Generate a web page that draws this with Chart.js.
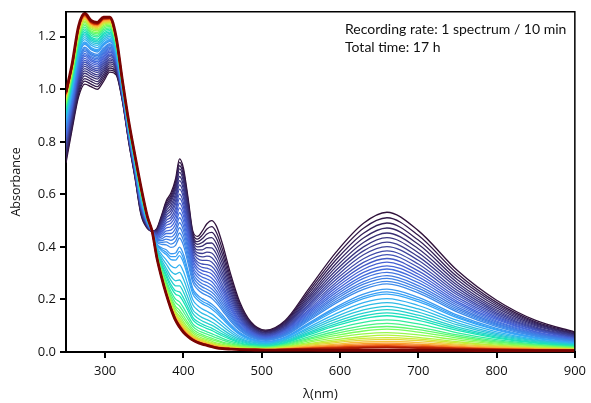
<!DOCTYPE html>
<html>
<head>
<meta charset="utf-8">
<script src="https://cdn.jsdelivr.net/npm/chart.js@4.4.0/dist/chart.umd.min.js"></script>
<style>
  html, body { margin: 0; padding: 0; background: #fff; }
</style>
</head>
<body>
<canvas id="uvvisChart" width="591" height="403"></canvas>
<script>
// wavelength grid (nm)
var wavelengths = [250,258,266,274,282,290,298,306,314,322,330,338,346,354,360,366,372,378,384,390,395,400,406,412,418,424,430,436,442,450,460,472,486,505,530,560,595,630,660,700,750,800,850,900];

// recording time of each plotted spectrum (min)
var times = [0,10,20,30,40,50,60,70,80,90,100,110,120,130,140,150,160,170,180,200,210,220,240,260,280,300,320,340,370,400,430,460,500,540,580,620,670,720,770,830,890,960,1020];

// absorbance of each spectrum on the wavelength grid
var spectra = [
  [.72,.85,.97,1.02,1.01,1.00,1.03,1.065,1.055,.955,.80,.665,.52,.47,.46,.47,.52,.575,.605,.66,.735,.70,.585,.46,.44,.46,.488,.50,.48,.41,.30,.19,.115,.083,.12,.24,.38,.49,.532,.462,.31,.197,.12,.076],
  [.731,.86,.981,1.031,1.02,1.01,1.04,1.073,1.061,.958,.803,.668,.524,.472,.46,.468,.515,.568,.596,.649,.722,.688,.574,.452,.43,.445,.468,.477,.456,.389,.285,.182,.111,.08,.116,.231,.365,.471,.511,.444,.298,.189,.115,.073],
  [.741,.87,.991,1.041,1.03,1.02,1.049,1.081,1.066,.961,.806,.672,.528,.474,.46,.466,.511,.561,.587,.638,.709,.675,.564,.443,.42,.431,.449,.455,.434,.37,.272,.174,.107,.078,.112,.222,.351,.452,.491,.426,.286,.182,.111,.07],
  [.751,.879,1.001,1.051,1.039,1.029,1.058,1.089,1.072,.964,.809,.675,.532,.475,.46,.463,.506,.554,.579,.628,.697,.663,.553,.435,.41,.417,.431,.435,.413,.351,.259,.166,.103,.075,.108,.213,.337,.434,.472,.41,.275,.175,.107,.068],
  [.761,.888,1.011,1.061,1.048,1.039,1.067,1.097,1.077,.967,.812,.678,.536,.477,.46,.461,.501,.547,.57,.617,.684,.65,.543,.427,.40,.403,.414,.415,.393,.334,.246,.159,.10,.073,.104,.205,.324,.417,.453,.393,.264,.168,.103,.065],
  [.77,.896,1.02,1.07,1.057,1.047,1.075,1.104,1.082,.97,.815,.681,.539,.478,.46,.458,.495,.538,.559,.603,.668,.634,.53,.416,.389,.389,.397,.396,.374,.317,.234,.152,.096,.071,.10,.197,.311,.40,.435,.378,.254,.161,.099,.063],
  [.779,.904,1.029,1.079,1.065,1.055,1.083,1.111,1.087,.972,.817,.683,.543,.48,.46,.456,.49,.529,.548,.59,.652,.619,.517,.406,.378,.375,.38,.377,.355,.301,.223,.145,.093,.068,.097,.19,.299,.385,.418,.363,.244,.155,.095,.061],
  [.787,.912,1.037,1.087,1.073,1.064,1.091,1.117,1.091,.975,.82,.686,.546,.481,.46,.453,.484,.52,.537,.576,.636,.603,.503,.396,.367,.362,.365,.36,.338,.286,.212,.139,.089,.066,.093,.182,.287,.37,.401,.349,.234,.149,.091,.058],
  [.795,.92,1.045,1.095,1.08,1.071,1.098,1.124,1.095,.977,.822,.689,.549,.483,.46,.45,.478,.511,.526,.563,.62,.588,.49,.385,.356,.349,.349,.343,.321,.272,.202,.133,.086,.064,.09,.176,.276,.355,.385,.335,.225,.143,.088,.056],
  [.803,.927,1.053,1.103,1.087,1.078,1.105,1.13,1.10,.98,.825,.691,.552,.484,.46,.447,.471,.501,.513,.547,.601,.569,.474,.373,.343,.335,.333,.326,.305,.257,.191,.128,.082,.062,.087,.169,.265,.341,.371,.322,.217,.138,.085,.054],
  [.81,.934,1.06,1.11,1.094,1.085,1.112,1.135,1.104,.982,.827,.693,.555,.485,.46,.444,.465,.492,.502,.533,.585,.553,.461,.363,.333,.322,.319,.311,.29,.244,.182,.121,.079,.059,.084,.162,.255,.328,.356,.309,.208,.133,.082,.052],
  [.818,.941,1.068,1.118,1.101,1.092,1.119,1.141,1.108,.984,.829,.696,.558,.486,.46,.441,.458,.482,.49,.519,.567,.536,.447,.351,.321,.31,.305,.297,.275,.232,.173,.116,.076,.057,.081,.156,.245,.315,.342,.297,.20,.128,.078,.05],
  [.825,.947,1.075,1.125,1.108,1.099,1.125,1.146,1.111,.986,.831,.698,.561,.487,.46,.438,.452,.472,.477,.503,.549,.519,.432,.34,.31,.298,.292,.282,.261,.22,.165,.111,.073,.055,.078,.15,.235,.303,.328,.286,.192,.123,.076,.049],
  [.831,.953,1.081,1.131,1.114,1.105,1.131,1.151,1.115,.988,.833,.70,.563,.489,.46,.435,.445,.461,.464,.487,.53,.50,.416,.327,.298,.285,.278,.268,.247,.208,.156,.105,.07,.053,.075,.145,.226,.291,.316,.275,.185,.118,.073,.047],
  [.837,.959,1.087,1.137,1.12,1.111,1.137,1.156,1.118,.99,.835,.702,.566,.49,.46,.432,.438,.451,.451,.471,.511,.481,.401,.315,.286,.272,.265,.254,.234,.197,.148,.10,.067,.051,.072,.139,.217,.28,.303,.264,.178,.114,.07,.045],
  [.844,.965,1.094,1.144,1.125,1.117,1.142,1.161,1.121,.992,.837,.704,.568,.491,.46,.428,.431,.44,.438,.455,.492,.463,.385,.302,.274,.26,.252,.241,.222,.186,.14,.095,.064,.049,.069,.134,.209,.268,.291,.253,.171,.109,.067,.044],
  [.85,.97,1.10,1.15,1.131,1.122,1.148,1.166,1.125,.993,.838,.706,.57,.492,.46,.425,.424,.43,.425,.439,.473,.444,.369,.29,.262,.248,.239,.228,.21,.176,.133,.091,.062,.047,.067,.129,.201,.258,.28,.243,.164,.105,.065,.042],
  [.855,.975,1.105,1.155,1.136,1.128,1.153,1.17,1.128,.995,.84,.708,.573,.493,.46,.422,.417,.419,.411,.422,.453,.425,.353,.277,.25,.236,.227,.216,.198,.166,.125,.086,.059,.046,.064,.124,.193,.248,.269,.234,.158,.101,.063,.041],
  [.86,.98,1.11,1.16,1.141,1.133,1.157,1.174,1.13,.997,.842,.709,.575,.493,.46,.418,.41,.408,.398,.406,.434,.406,.337,.265,.239,.224,.215,.205,.187,.157,.118,.082,.056,.044,.062,.119,.186,.238,.259,.225,.152,.097,.06,.039],
  [.871,.99,1.121,1.171,1.151,1.142,1.167,1.182,1.136,1.00,.845,.712,.579,.495,.46,.412,.397,.389,.374,.377,.399,.372,.308,.242,.217,.203,.194,.183,.167,.14,.106,.074,.051,.04,.057,.11,.171,.22,.239,.208,.14,.09,.056,.036],
  [.876,.994,1.126,1.176,1.155,1.147,1.171,1.186,1.139,1.001,.846,.714,.581,.496,.46,.41,.391,.38,.363,.363,.383,.356,.295,.232,.208,.193,.184,.173,.158,.132,.10,.07,.049,.039,.055,.106,.165,.211,.229,.199,.135,.086,.054,.035],
  [.88,.998,1.13,1.18,1.159,1.151,1.175,1.19,1.141,1.002,.847,.715,.582,.497,.46,.407,.385,.371,.352,.35,.367,.341,.282,.221,.198,.184,.175,.164,.149,.125,.095,.066,.047,.037,.053,.102,.158,.203,.22,.192,.13,.083,.052,.034],
  [.889,1.006,1.139,1.189,1.168,1.159,1.183,1.196,1.146,1.005,.85,.718,.586,.498,.46,.401,.372,.351,.328,.32,.332,.306,.253,.199,.177,.164,.155,.145,.131,.11,.084,.059,.043,.034,.049,.094,.146,.188,.203,.177,.12,.077,.048,.032],
  [.897,1.014,1.147,1.197,1.175,1.167,1.19,1.202,1.15,1.007,.852,.721,.589,.499,.46,.396,.361,.335,.308,.296,.303,.278,.229,.18,.16,.147,.139,.129,.117,.098,.075,.053,.039,.032,.046,.088,.135,.174,.188,.164,.111,.071,.045,.03],
  [.904,1.02,1.154,1.204,1.182,1.174,1.197,1.208,1.154,1.01,.854,.723,.592,.501,.46,.391,.351,.319,.288,.271,.274,.25,.206,.161,.143,.131,.123,.114,.103,.086,.066,.048,.035,.029,.043,.081,.125,.16,.174,.152,.103,.066,.042,.028],
  [.911,1.027,1.161,1.211,1.188,1.18,1.203,1.213,1.157,1.012,.856,.725,.594,.502,.46,.387,.343,.307,.273,.252,.252,.228,.187,.147,.129,.118,.11,.102,.092,.076,.059,.043,.032,.027,.04,.075,.116,.148,.161,.14,.095,.061,.039,.026],
  [.917,1.032,1.167,1.217,1.194,1.186,1.209,1.218,1.161,1.013,.858,.727,.597,.503,.46,.383,.334,.295,.257,.233,.229,.206,.169,.132,.116,.106,.098,.091,.081,.068,.053,.039,.029,.025,.037,.07,.107,.137,.149,.13,.088,.057,.036,.024],
  [.923,1.038,1.173,1.223,1.199,1.191,1.214,1.223,1.164,1.015,.86,.729,.599,.504,.46,.38,.329,.286,.246,.22,.213,.191,.156,.122,.106,.097,.089,.082,.073,.061,.048,.035,.027,.023,.034,.065,.10,.127,.138,.12,.082,.053,.034,.023],
  [.93,1.045,1.18,1.23,1.206,1.199,1.221,1.229,1.168,1.017,.862,.731,.602,.505,.46,.377,.32,.273,.231,.201,.191,.169,.137,.107,.093,.084,.077,.07,.062,.052,.041,.031,.024,.021,.031,.058,.089,.113,.122,.107,.073,.047,.03,.021],
  [.937,1.051,1.187,1.237,1.213,1.205,1.227,1.234,1.172,1.019,.864,.733,.605,.506,.46,.374,.314,.264,.22,.188,.175,.153,.124,.097,.083,.075,.068,.061,.054,.045,.036,.027,.022,.019,.028,.052,.079,.10,.109,.095,.065,.042,.027,.019],
  [.943,1.057,1.193,1.243,1.218,1.211,1.233,1.239,1.175,1.021,.866,.735,.607,.507,.46,.371,.309,.256,.209,.174,.159,.138,.111,.087,.074,.066,.059,.053,.046,.038,.031,.024,.019,.017,.026,.047,.071,.09,.097,.085,.059,.038,.025,.017],
  [.949,1.062,1.199,1.249,1.223,1.216,1.238,1.243,1.178,1.023,.868,.737,.609,.508,.46,.369,.305,.25,.202,.165,.148,.127,.102,.079,.067,.06,.053,.047,.041,.034,.027,.021,.018,.016,.023,.042,.063,.08,.087,.076,.053,.034,.023,.016],
  [.955,1.068,1.205,1.255,1.229,1.222,1.243,1.248,1.181,1.025,.87,.739,.611,.509,.46,.367,.30,.243,.194,.155,.137,.116,.092,.072,.061,.053,.047,.041,.035,.029,.024,.019,.016,.014,.021,.037,.055,.069,.074,.065,.046,.03,.02,.014],
  [.96,1.073,1.21,1.26,1.234,1.227,1.248,1.252,1.184,1.026,.871,.741,.613,.51,.46,.366,.297,.238,.187,.148,.128,.107,.085,.066,.055,.048,.042,.036,.031,.025,.021,.017,.014,.013,.019,.032,.047,.059,.064,.056,.039,.026,.018,.013],
  [.965,1.077,1.215,1.265,1.238,1.231,1.252,1.255,1.186,1.028,.872,.742,.615,.511,.46,.364,.294,.234,.183,.142,.121,.10,.079,.062,.051,.044,.038,.033,.027,.023,.019,.015,.013,.012,.017,.029,.041,.052,.055,.049,.035,.023,.016,.012],
  [.968,1.08,1.218,1.268,1.242,1.235,1.255,1.258,1.188,1.029,.874,.743,.617,.511,.46,.363,.292,.231,.179,.137,.115,.094,.074,.058,.048,.041,.035,.03,.025,.02,.017,.014,.012,.011,.015,.025,.036,.045,.048,.043,.03,.02,.014,.011],
  [.972,1.084,1.222,1.272,1.246,1.238,1.259,1.261,1.191,1.03,.875,.745,.618,.512,.46,.362,.29,.228,.175,.132,.109,.089,.07,.054,.044,.038,.032,.027,.022,.018,.015,.013,.011,.01,.014,.022,.03,.038,.04,.036,.026,.018,.013,.01],
  [.976,1.087,1.226,1.276,1.249,1.242,1.262,1.264,1.192,1.031,.876,.746,.619,.513,.46,.362,.289,.226,.172,.129,.105,.085,.066,.052,.042,.035,.03,.025,.02,.017,.014,.012,.01,.01,.012,.019,.026,.032,.034,.03,.022,.015,.011,.009],
  [.978,1.089,1.228,1.278,1.251,1.244,1.265,1.266,1.194,1.032,.877,.746,.621,.513,.46,.361,.288,.224,.17,.127,.103,.083,.064,.05,.041,.034,.029,.024,.019,.016,.013,.011,.01,.009,.011,.017,.022,.027,.029,.026,.019,.013,.01,.008],
  [.981,1.092,1.231,1.281,1.253,1.246,1.267,1.268,1.195,1.032,.877,.747,.621,.513,.46,.361,.287,.223,.169,.125,.101,.081,.063,.049,.039,.033,.028,.023,.018,.015,.013,.01,.01,.009,.01,.015,.019,.023,.024,.022,.016,.012,.009,.007],
  [.983,1.094,1.233,1.283,1.255,1.248,1.269,1.27,1.196,1.033,.878,.748,.622,.514,.46,.361,.286,.222,.168,.123,.099,.079,.061,.047,.038,.032,.027,.022,.017,.014,.012,.01,.009,.008,.01,.013,.016,.019,.02,.018,.014,.01,.008,.007],
  [.985,1.095,1.235,1.285,1.257,1.25,1.27,1.271,1.197,1.033,.878,.748,.623,.514,.46,.36,.286,.221,.166,.122,.097,.077,.06,.046,.037,.031,.026,.021,.017,.014,.011,.009,.009,.008,.009,.012,.013,.016,.017,.015,.012,.009,.007,.006],
  [.99,1.10,1.24,1.29,1.262,1.255,1.275,1.275,1.20,1.035,.88,.75,.625,.515,.46,.36,.285,.22,.165,.12,.095,.075,.058,.045,.036,.03,.025,.02,.016,.013,.011,.009,.008,.007,.007,.007,.006,.006,.006,.006,.006,.005,.005,.005]
];

var xTicks = [300,400,500,600,700,800,900];
var yTicks = [0,0.2,0.4,0.6,0.8,1.0,1.2];
var noteLines = ['Recording rate: 1 spectrum / 10 min', 'Total time: 17 h'];

// turbo colour map stops (evenly spaced from t=0 to t=1)
var turboStops = ['#30123b','#4662d7','#36aaf9','#1ae4b6','#72fe5e','#c8ef34','#faba39','#f66b19','#cb2a04','#7a0403'];

function hexToRgb(h) {
  return [parseInt(h.substr(1, 2), 16), parseInt(h.substr(3, 2), 16), parseInt(h.substr(5, 2), 16)];
}

function turbo(t) {
  var n = turboStops.length - 1;
  var p = Math.max(0, Math.min(1, t)) * n;
  var i = Math.min(n - 1, Math.floor(p));
  var f = p - i;
  var c0 = hexToRgb(turboStops[i]), c1 = hexToRgb(turboStops[i + 1]);
  var rgb = c0.map(function (v, k) { return Math.round(v + (c1[k] - v) * f); });
  return 'rgb(' + rgb.join(',') + ')';
}

var lastTime = times[times.length - 1];
var datasets = spectra.map(function (spec, i) {
  var n = spectra.length;
  var w = 1.3;
  if (i === n - 1) w = 2.8;
  else if (i >= n - 3) w = 1.8;
  return {
    label: times[i] + ' min',
    data: wavelengths.map(function (x, j) { return {x: x, y: spec[j]}; }),
    borderColor: turbo(times[i] / lastTime),
    borderWidth: w,
    pointRadius: 0,
    fill: false,
    cubicInterpolationMode: 'monotone',
    order: n - 1 - i   // later spectra drawn on top
  };
});

var framePlugin = {
  id: 'frameAndNote',
  afterDraw: function (chart) {
    var ctx = chart.ctx, a = chart.chartArea;
    ctx.save();
    ctx.strokeStyle = '#000';
    ctx.lineWidth = 1.5;
    ctx.beginPath();
    ctx.moveTo(a.left, a.top);
    ctx.lineTo(a.right, a.top);
    ctx.lineTo(a.right, a.bottom);
    ctx.stroke();
    ctx.fillStyle = '#111';
    ctx.font = '14px Lato';
    ctx.textAlign = 'left';
    ctx.textBaseline = 'alphabetic';
    ctx.fillText(noteLines[0], 345, 34);
    ctx.fillText(noteLines[1], 345, 52);
    ctx.restore();
  }
};

var tickFont = {family: 'Open Sans', size: 13};

var ctx = document.getElementById('uvvisChart');
var uvvisChart = new Chart(ctx, {
  type: 'line',
  data: {datasets: datasets},
  options: {
    responsive: false,
    devicePixelRatio: 1,
    animation: false,
    layout: {padding: {top: 11, right: 13, left: 0, bottom: 0}},
    plugins: {legend: {display: false}, tooltip: {enabled: false}},
    scales: {
      x: {
        type: 'linear',
        min: 250,
        max: 900,
        afterFit: function (scale) { scale.height = 51; },
        afterBuildTicks: function (scale) { scale.ticks = xTicks.map(function (v) { return {value: v}; }); },
        grid: {display: true, drawOnChartArea: false, drawTicks: true, tickLength: 6, color: '#000', lineWidth: 2},
        border: {display: true, color: '#000', width: 2},
        ticks: {font: tickFont, color: '#111', padding: 5, maxRotation: 0},
        title: {display: true, text: 'λ(nm)', font: tickFont, color: '#111', padding: {top: 0, bottom: 1}}
      },
      y: {
        type: 'linear',
        min: 0,
        max: 1.295,
        afterFit: function (scale) { scale.width = 66; },
        afterBuildTicks: function (scale) { scale.ticks = yTicks.map(function (v) { return {value: v}; }); },
        grid: {display: true, drawOnChartArea: false, drawTicks: true, tickLength: 6, color: '#000', lineWidth: 2},
        border: {display: true, color: '#000', width: 2},
        ticks: {font: tickFont, color: '#111', padding: 4, callback: function (v) { return v.toFixed(1); }},
        title: {display: true, text: 'Absorbance', font: {family: 'Open Sans', size: 12.5}, color: '#111', padding: {top: 9, bottom: 0}}
      }
    }
  },
  plugins: [framePlugin]
});
</script>
</body>
</html>
